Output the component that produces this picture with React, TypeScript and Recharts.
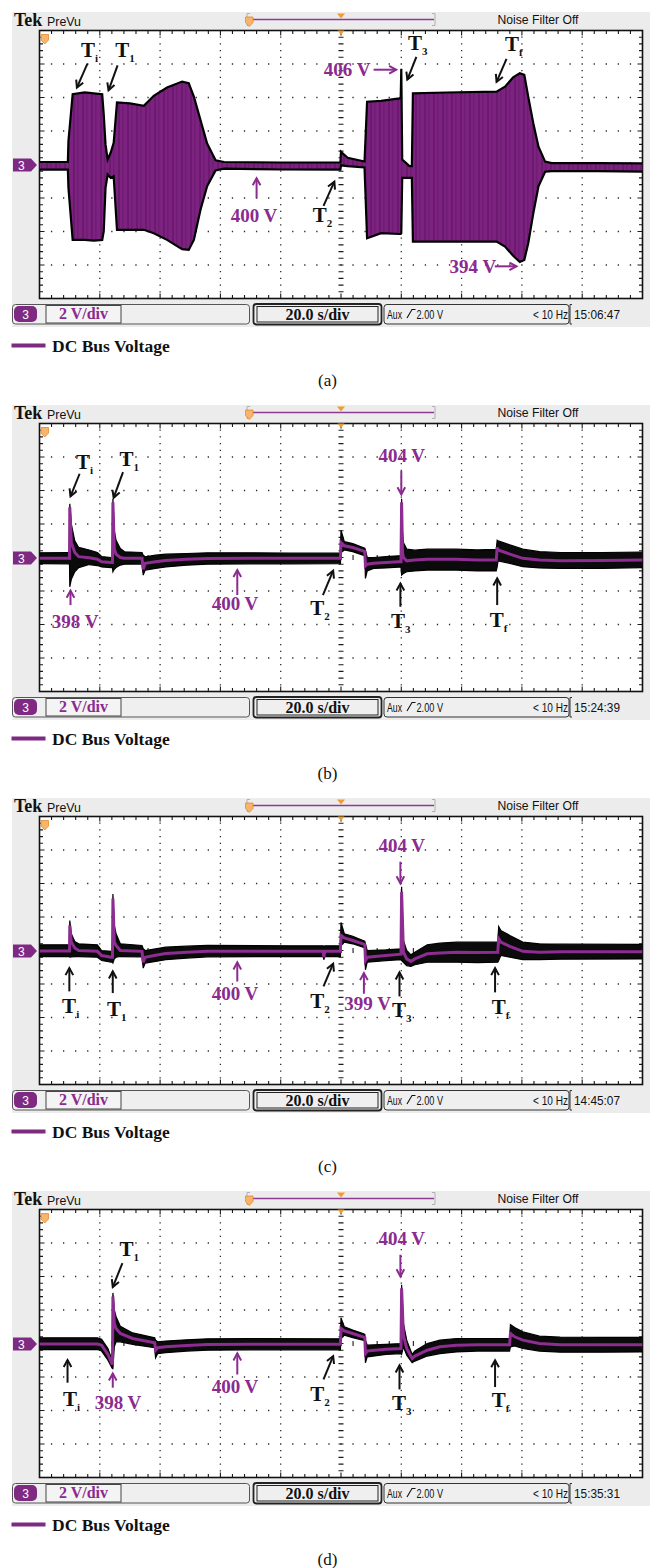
import React from 'react';
import {
  ComposedChart,
  Area,
  Line,
  XAxis,
  YAxis,
  ReferenceArea,
  ReferenceLine,
  ReferenceDot,
} from 'recharts';

const SERIF = '"Liberation Serif", "Times New Roman", serif';
const SANS = '"Liberation Sans", Arial, sans-serif';
const K = '#111111';
const P = '#8b2b8f';
const TRACE = '#7e2282';

// ---- graticule (20 s/div x 10 div, 2 V/div x 8 div centred on 400 V) ----
const TIME_DOMAIN = [0, 200];
const VOLT_DOMAIN = [392, 408];
const TIME_PER_DIV = 20;
const VOLT_PER_DIV = 2;
const MINOR_PER_DIV = 5;

const CAPTIONS = ['(a)', '(b)', '(c)', '(d)'];
const CLOCKS = ['15:06:47', '15:24:39', '14:45:07', '15:35:31'];

// ---- panel (a): envelope of the oscillating DC bus voltage (V) ----
const A_TIME = [0, 9.4, 9.6, 11.0, 15.0, 18.0, 20.8, 21.3, 21.9, 22.6, 23.6, 24.6, 25.7, 30.0, 34.6, 37.9, 42.3, 47.3, 49.5, 51.2, 53.4, 55.6, 58.4, 61.2, 80.0, 99.8, 100.0, 102.2, 107.8, 108.65, 113.3, 119.4, 119.8, 120.0, 120.3, 122.7, 123.5, 123.85, 135.0, 151.6, 154.4, 157.1, 159.3, 160.8, 162.1, 163.8, 165.5, 167.7, 169.9, 185.0, 200];
const A_LOW = [399.7, 399.7, 398.6, 395.5, 395.5, 395.45, 395.5, 396.0, 398.6, 399.4, 399.2, 399.3, 396.1, 396.1, 396.1, 395.9, 395.5, 394.95, 394.9, 395.5, 397.3, 398.7, 399.65, 399.75, 399.7, 399.7, 399.95, 399.9, 399.82, 395.6, 395.9, 395.85, 395.85, 395.9, 399.2, 399.2, 399.2, 395.4, 395.4, 395.4, 395.1, 394.55, 394.18, 394.3, 395.3, 397.1, 398.7, 399.57, 399.6, 399.6, 399.57];
const A_HIGH = [400.15, 400.15, 401.4, 404.2, 404.3, 404.25, 404.2, 403.0, 401.2, 400.3, 400.7, 401.3, 403.7, 403.65, 403.5, 404.1, 404.6, 404.95, 404.85, 404.05, 402.65, 401.25, 400.25, 400.15, 400.12, 400.12, 400.75, 400.4, 400.18, 403.75, 403.8, 403.95, 404.0, 405.72, 400.3, 399.9, 399.9, 404.25, 404.3, 404.35, 404.65, 405.2, 405.45, 405.35, 404.05, 402.45, 401.06, 400.17, 400.08, 400.08, 400.07];

// ---- panel (b) ----
const B_TIME = [0, 9.6, 9.95, 10.05, 10.55, 11.7, 13.0, 16.5, 19.2, 20.6, 23.8, 24.2, 24.35, 24.8, 25.4, 26.8, 28.2, 34.0, 34.4, 35.05, 38.5, 41.9, 48.8, 55.7, 69.5, 83.2, 99.8, 100.0, 101.1, 103.9, 107.3, 107.9, 108.1, 108.7, 110.8, 114.9, 119.0, 119.9, 120.1, 120.4, 120.7, 121.8, 124.5, 128.6, 138.3, 145.2, 151.5, 151.8, 152.1, 156.0, 160.3, 165.8, 172.7, 186.5, 200];
const B_LOW = [399.64, 399.62, 399.6, 398.25, 398.7, 399.15, 399.4, 399.58, 399.52, 399.44, 399.4, 399.4, 399.15, 399.3, 399.4, 399.55, 399.6, 399.62, 398.95, 399.25, 399.35, 399.44, 399.54, 399.6, 399.62, 399.62, 399.64, 400.3, 400.45, 400.35, 400.14, 400.1, 398.75, 399.2, 399.35, 399.38, 399.42, 399.42, 398.95, 399.0, 399.05, 399.15, 399.2, 399.25, 399.25, 399.2, 399.2, 399.45, 399.8, 399.65, 399.45, 399.38, 399.35, 399.35, 399.4];
const B_HIGH = [400.28, 400.3, 400.3, 403.21, 402.0, 401.0, 400.6, 400.45, 400.3, 400.06, 400.0, 400.0, 403.51, 401.6, 401.03, 400.54, 400.34, 400.3, 400.14, 400.04, 400.14, 400.2, 400.24, 400.28, 400.28, 400.26, 400.26, 401.63, 400.95, 400.83, 400.6, 400.55, 400.44, 400.0, 400.0, 400.05, 400.1, 400.1, 403.51, 401.5, 400.9, 400.5, 400.44, 400.5, 400.5, 400.45, 400.48, 401.03, 401.0, 400.75, 400.5, 400.35, 400.3, 400.3, 400.32];
const B_MID = [399.96, 399.96, 399.95, 403.0, 400.9, 400.3, 400.05, 399.98, 399.9, 399.75, 399.7, 399.7, 403.3, 400.5, 400.2, 400.0, 399.95, 399.95, 399.3, 399.65, 399.75, 399.82, 399.9, 399.94, 399.95, 399.95, 399.95, 400.9, 400.7, 400.6, 400.4, 400.35, 399.5, 399.6, 399.65, 399.7, 399.75, 399.75, 403.3, 400.3, 400.0, 399.8, 399.85, 399.9, 399.9, 399.85, 399.85, 400.6, 400.45, 400.2, 399.95, 399.85, 399.8, 399.82, 399.85];

// ---- panel (c) ----
const C_TIME = [0, 9.6, 9.95, 10.05, 10.55, 11.7, 13.0, 19.2, 20.6, 23.8, 24.2, 24.35, 24.8, 25.4, 26.8, 34.0, 34.4, 35.05, 38.5, 41.9, 48.8, 55.7, 83.2, 94.1, 94.3, 94.6, 99.8, 100.0, 101.1, 103.9, 107.3, 107.9, 108.1, 108.7, 114.9, 119.9, 120.1, 120.7, 121.8, 123.2, 124.5, 128.6, 132.8, 138.3, 145.2, 152.0, 152.3, 153.0, 156.0, 160.3, 165.8, 172.7, 200];
const C_LOW = [399.64, 399.64, 399.62, 399.6, 399.62, 399.64, 399.64, 399.6, 399.4, 399.3, 399.3, 399.25, 399.5, 399.6, 399.64, 399.62, 398.95, 399.25, 399.35, 399.45, 399.55, 399.62, 399.64, 399.64, 399.45, 399.64, 399.64, 400.3, 400.5, 400.4, 400.2, 400.15, 398.85, 399.3, 399.4, 399.45, 399.4, 399.3, 399.1, 399.05, 399.15, 399.3, 399.3, 399.3, 399.28, 399.3, 399.4, 399.7, 399.6, 399.45, 399.45, 399.48, 399.5];
const C_HIGH = [400.34, 400.34, 400.34, 401.79, 401.0, 400.54, 400.4, 400.34, 400.0, 399.95, 399.95, 403.37, 401.5, 401.0, 400.4, 400.3, 400.1, 400.0, 400.1, 400.2, 400.26, 400.3, 400.28, 400.28, 400.2, 400.28, 400.28, 401.67, 401.0, 400.85, 400.6, 400.55, 400.4, 400.0, 400.04, 400.1, 403.81, 400.6, 400.0, 399.74, 399.9, 400.34, 400.44, 400.5, 400.5, 400.5, 401.43, 401.2, 400.9, 400.5, 400.4, 400.38, 400.36];
const C_MID = [399.97, 399.97, 399.97, 401.5, 400.5, 400.15, 400.0, 399.95, 399.7, 399.6, 399.6, 403.1, 400.5, 400.3, 400.0, 399.95, 399.3, 399.6, 399.72, 399.82, 399.9, 399.95, 399.96, 399.96, 399.6, 399.96, 399.96, 400.9, 400.75, 400.6, 400.4, 400.35, 399.4, 399.6, 399.7, 399.78, 403.5, 399.9, 399.5, 399.35, 399.5, 399.8, 399.85, 399.9, 399.88, 399.9, 400.7, 400.5, 400.25, 399.95, 399.9, 399.92, 399.93];

// ---- panel (d) ----
const D_TIME = [0, 19.2, 20.6, 22.7, 24.0, 24.2, 24.35, 24.8, 25.4, 26.8, 30.9, 38.2, 38.5, 39.2, 41.9, 48.8, 55.7, 69.5, 99.8, 100.0, 101.1, 103.9, 107.3, 107.9, 108.1, 108.7, 114.9, 119.9, 120.1, 120.7, 121.8, 123.6, 124.5, 128.6, 132.8, 138.3, 145.2, 155.9, 156.2, 157.6, 160.3, 165.8, 172.7, 186.5, 200];
const D_LOW = [399.64, 399.64, 399.55, 399.0, 398.55, 398.5, 398.5, 399.8, 400.1, 400.1, 399.95, 399.75, 399.15, 399.4, 399.45, 399.55, 399.6, 399.62, 399.62, 400.3, 400.5, 400.35, 400.2, 400.15, 398.85, 399.2, 399.35, 399.4, 399.35, 399.8, 399.3, 398.85, 398.95, 399.25, 399.4, 399.5, 399.55, 399.55, 399.8, 399.85, 399.7, 399.55, 399.48, 399.48, 399.5];
const D_HIGH = [400.34, 400.34, 400.25, 399.7, 399.05, 399.1, 403.02, 402.0, 401.6, 401.03, 400.63, 400.34, 400.2, 400.1, 400.15, 400.22, 400.28, 400.3, 400.28, 401.53, 401.0, 400.8, 400.6, 400.55, 400.2, 399.9, 399.95, 400.0, 403.51, 401.2, 400.2, 399.35, 399.55, 400.0, 400.2, 400.3, 400.3, 400.3, 401.13, 400.95, 400.7, 400.44, 400.38, 400.36, 400.36];
const D_MID = [399.97, 399.97, 399.9, 399.35, 398.8, 398.8, 402.8, 401.2, 400.9, 400.6, 400.3, 400.05, 399.6, 399.75, 399.8, 399.88, 399.94, 399.95, 399.95, 400.9, 400.75, 400.6, 400.4, 400.35, 399.4, 399.55, 399.65, 399.7, 403.3, 400.5, 399.7, 399.1, 399.25, 399.6, 399.8, 399.9, 399.92, 399.92, 400.6, 400.4, 400.2, 400.0, 399.92, 399.92, 399.92];

// ---- annotations (data coordinates: s, V) ----
type Note = { x: number; y: number; t: string; s?: string; c: string };
type Arrow = { x1: number; y1: number; x2: number; y2: number; c: string };

const A_NOTES: Note[] = [
  { x: 13.8, y: 406.42, t: 'T', s: 'i', c: K },
  { x: 25.1, y: 406.42, t: 'T', s: '1', c: K },
  { x: 63.4, y: 396.56, t: '400 V', c: P },
  { x: 90.6, y: 396.54, t: 'T', s: '2', c: K },
  { x: 94.3, y: 405.3, t: '406 V', c: P },
  { x: 122.2, y: 406.85, t: 'T', s: '3', c: K },
  { x: 154.4, y: 406.77, t: 'T', s: 'f', c: K },
  { x: 136.0, y: 393.52, t: '394 V', c: P },
];
const A_ARROWS: Arrow[] = [
  { x1: 15.9, y1: 406.02, x2: 12.4, y2: 404.59, c: K },
  { x1: 25.9, y1: 405.92, x2: 22.9, y2: 404.43, c: K },
  { x1: 72.0, y1: 397.99, x2: 72.0, y2: 399.18, c: P },
  { x1: 94.2, y1: 397.53, x2: 97.8, y2: 398.98, c: K },
  { x1: 110.8, y1: 405.66, x2: 118.3, y2: 405.66, c: P },
  { x1: 125.0, y1: 406.42, x2: 122.0, y2: 405.07, c: K },
  { x1: 154.9, y1: 406.3, x2: 151.6, y2: 404.93, c: K },
  { x1: 151.0, y1: 393.92, x2: 158.2, y2: 393.92, c: P },
];

const B_NOTES: Note[] = [
  { x: 12.07, y: 405.3, t: 'T', s: 'i', c: K },
  { x: 26.5, y: 405.44, t: 'T', s: '1', c: K },
  { x: 4.1, y: 395.77, t: '398 V', c: P },
  { x: 57.1, y: 396.87, t: '400 V', c: P },
  { x: 89.8, y: 396.57, t: 'T', s: '2', c: K },
  { x: 112.4, y: 405.69, t: '404 V', c: P },
  { x: 116.6, y: 395.77, t: 'T', s: '3', c: K },
  { x: 149.3, y: 395.87, t: 'T', s: 'f', c: K },
];
const B_ARROWS: Arrow[] = [
  { x1: 13.3, y1: 405.0, x2: 10.28, y2: 403.65, c: K },
  { x1: 27.7, y1: 405.1, x2: 24.6, y2: 403.57, c: K },
  { x1: 10.28, y1: 397.16, x2: 10.28, y2: 398.02, c: P },
  { x1: 65.6, y1: 397.76, x2: 65.6, y2: 399.25, c: P },
  { x1: 94.0, y1: 397.76, x2: 97.4, y2: 399.21, c: K },
  { x1: 120.0, y1: 405.16, x2: 120.0, y2: 403.77, c: P },
  { x1: 119.7, y1: 397.06, x2: 119.7, y2: 398.45, c: K },
  { x1: 151.8, y1: 397.16, x2: 151.8, y2: 398.75, c: K },
];

const C_NOTES: Note[] = [
  { x: 7.5, y: 396.27, t: 'T', s: 'i', c: K },
  { x: 22.4, y: 396.11, t: 'T', s: '1', c: K },
  { x: 57.1, y: 397.06, t: '400 V', c: P },
  { x: 89.8, y: 396.57, t: 'T', s: '2', c: K },
  { x: 101.1, y: 396.43, t: '399 V', c: P },
  { x: 112.4, y: 405.89, t: '404 V', c: P },
  { x: 116.9, y: 396.03, t: 'T', s: '3', c: K },
  { x: 150.0, y: 396.23, t: 'T', s: 'f', c: K },
];
const C_ARROWS: Arrow[] = [
  { x1: 9.9, y1: 397.56, x2: 9.9, y2: 398.95, c: K },
  { x1: 24.3, y1: 397.46, x2: 24.3, y2: 398.75, c: K },
  { x1: 65.6, y1: 398.15, x2: 65.6, y2: 399.29, c: P },
  { x1: 94.2, y1: 397.86, x2: 97.4, y2: 399.21, c: K },
  { x1: 107.6, y1: 397.42, x2: 107.6, y2: 398.65, c: P },
  { x1: 119.7, y1: 405.3, x2: 119.7, y2: 404.01, c: P },
  { x1: 119.4, y1: 397.26, x2: 119.4, y2: 398.69, c: K },
  { x1: 151.1, y1: 397.5, x2: 151.1, y2: 398.95, c: K },
];

const D_NOTES: Note[] = [
  { x: 7.8, y: 396.27, t: 'T', s: 'i', c: K },
  { x: 26.5, y: 405.24, t: 'T', s: '1', c: K },
  { x: 18.3, y: 396.11, t: '398 V', c: P },
  { x: 57.1, y: 397.06, t: '400 V', c: P },
  { x: 89.8, y: 396.57, t: 'T', s: '2', c: K },
  { x: 112.4, y: 405.89, t: '404 V', c: P },
  { x: 116.9, y: 396.03, t: 'T', s: '3', c: K },
  { x: 150.0, y: 396.23, t: 'T', s: 'f', c: K },
];
const D_ARROWS: Arrow[] = [
  { x1: 9.3, y1: 397.66, x2: 9.3, y2: 399.01, c: K },
  { x1: 27.5, y1: 404.8, x2: 24.3, y2: 403.37, c: K },
  { x1: 24.3, y1: 397.36, x2: 24.3, y2: 398.21, c: P },
  { x1: 65.6, y1: 398.15, x2: 65.6, y2: 399.41, c: P },
  { x1: 94.2, y1: 397.86, x2: 97.4, y2: 399.25, c: K },
  { x1: 119.7, y1: 405.3, x2: 119.7, y2: 404.01, c: P },
  { x1: 119.4, y1: 397.26, x2: 119.4, y2: 398.69, c: K },
  { x1: 151.1, y1: 397.4, x2: 151.1, y2: 399.0, c: K },
];

const rowsA = A_TIME.map((t, i) => ({ t, band: [A_LOW[i], A_HIGH[i]] }));
const rowsB = B_TIME.map((t, i) => ({ t, band: [B_LOW[i], B_HIGH[i]], mid: B_MID[i] }));
const rowsC = C_TIME.map((t, i) => ({ t, band: [C_LOW[i], C_HIGH[i]], mid: C_MID[i] }));
const rowsD = D_TIME.map((t, i) => ({ t, band: [D_LOW[i], D_HIGH[i]], mid: D_MID[i] }));

// oscilloscope graticule drawn inside the rectangle that the axes give for the full domain
const graticuleShape = (p: any) => {
  const { x, y, width, height } = p;
  const nx = (TIME_DOMAIN[1] - TIME_DOMAIN[0]) / TIME_PER_DIV;
  const ny = (VOLT_DOMAIN[1] - VOLT_DOMAIN[0]) / VOLT_PER_DIV;
  const dx = width / nx;
  const dy = height / ny;
  const m = MINOR_PER_DIV;
  let dots = '';
  const dot = (gx: number, gy: number) => `M${(gx - 0.65).toFixed(2)} ${(gy - 0.65).toFixed(2)}h1.3v1.3h-1.3z`;
  for (let i = 1; i < nx; i++) {
    if (i * 2 === nx) continue;
    for (let k = 1; k < ny * m; k++) dots += dot(x + i * dx, y + (k * dy) / m);
  }
  for (let j = 1; j < ny; j++) {
    if (j * 2 === ny) continue;
    for (let k = 1; k < nx * m; k++) dots += dot(x + (k * dx) / m, y + j * dy);
  }
  let ticks = '';
  const cx = x + width / 2;
  const cy = y + height / 2;
  for (let k = 1; k < ny * m; k++) {
    const gy = (y + (k * dy) / m).toFixed(2);
    const len = k % m === 0 ? 5 : 3.5;
    ticks += `M${cx - 2.5} ${gy}h5`;
    ticks += `M${x} ${gy}h${len}`;
    ticks += `M${x + width} ${gy}h${-len}`;
  }
  for (let k = 1; k < nx * m; k++) {
    const gx = (x + (k * dx) / m).toFixed(2);
    const len = k % m === 0 ? 5 : 3.5;
    ticks += `M${gx} ${cy - 2.5}v5`;
    ticks += `M${gx} ${y}v${len}`;
    ticks += `M${gx} ${y + height}v${-len}`;
  }
  return (
    <g>
      <path d={dots} fill="#2a2a2a" />
      <path d={ticks} stroke="#1a1a1a" strokeWidth={1.1} fill="none" />
      <rect x={x} y={y} width={width} height={height} fill="none" stroke="#111" strokeWidth={1.6} />
    </g>
  );
};

const arrowShape = (color: string) => (p: any) => {
  const { x1, y1, x2, y2 } = p;
  const a = Math.atan2(y2 - y1, x2 - x1);
  const L = 8;
  const w = 0.5;
  const pts = `${x2 - L * Math.cos(a - w)},${y2 - L * Math.sin(a - w)} ${x2},${y2} ${x2 - L * Math.cos(a + w)},${y2 - L * Math.sin(a + w)}`;
  return (
    <g>
      <line x1={x1} y1={y1} x2={x2} y2={y2} stroke={color} strokeWidth={2} />
      <polyline points={pts} fill="none" stroke={color} strokeWidth={2} />
    </g>
  );
};

const noteShape = (n: Note) => (p: any) => (
  <text x={p.cx} y={p.cy} fill={n.c} fontFamily={SERIF} fontWeight="bold" fontSize={n.s ? 21 : 19}>
    {n.t}
    {n.s ? (
      <tspan dy={5} fontSize={11}>
        {n.s}
      </tspan>
    ) : null}
  </text>
);

function Chrome({ clock, caption }: { clock: string; caption: string }) {
  return (
    <svg width={650} height={393} style={{ position: 'absolute', left: 0, top: 0 }}>
      <rect x={12} y={12} width={638} height={315} fill="#ececec" />
      <rect x={39.5} y={30.5} width={603} height={268} fill="#ffffff" />
      <text x={14} y={26} fontFamily={SERIF} fontWeight="bold" fontSize={18} fill="#111">
        Tek
      </text>
      <text x={47} y={26} fontFamily={SANS} fontSize={12.5} fill="#111" textLength={34} lengthAdjust="spacingAndGlyphs">
        PreVu
      </text>
      <path d="M250 13.5 h-3 v12 h3" stroke="#b0b0b0" fill="none" />
      <path d="M432 13.5 h3 v12 h-3" stroke="#b0b0b0" fill="none" />
      <line x1={251} y1={19.5} x2={434} y2={19.5} stroke="#8e3b94" strokeWidth={1.6} />
      <path d="M245.5 17 h7.5 v5.5 l-3.75 4 l-3.75 -4 z" fill="#f7b46c" stroke="#e8892b" strokeWidth={0.8} />
      <path d="M337 13.5 h8 l-4 5 z" fill="#f29b2f" />
      <text x={497.5} y={24} fontFamily={SANS} fontSize={12.5} fill="#111" textLength={81} lengthAdjust="spacingAndGlyphs">
        Noise Filter Off
      </text>
      {/* channel 3 ground marker */}
      <path d="M13 158.5 h18 l6 6.5 l-6 6.5 h-18 z" fill="#7e2a82" />
      <text x={18} y={169.5} fontFamily={SANS} fontSize={12} fill="#fff">
        3
      </text>
      {/* status bar */}
      <rect x={12.5} y={304.5} width={237} height={19.5} rx={3} fill="#efefef" stroke="#555" />
      <rect x={14} y={306} width={23} height={16} rx={5} fill="#7e2a82" />
      <text x={25.5} y={318.5} textAnchor="middle" fontFamily={SANS} fontSize={12} fill="#fff">
        3
      </text>
      <rect x={46} y={305.5} width={75} height={17.5} fill="#f4f4f4" stroke="#444" />
      <text x={83.5} y={319} textAnchor="middle" fontFamily={SERIF} fontWeight="bold" fontSize={16} fill={P}>
        2 V/div
      </text>
      <rect x={253.5} y={304} width={128} height={20.5} rx={3} fill="#efefef" stroke="#222" strokeWidth={1.8} />
      <rect x={257} y={306.5} width={121} height={15.5} fill="none" stroke="#222" />
      <text x={317.5} y={319.5} textAnchor="middle" fontFamily={SERIF} fontWeight="bold" fontSize={16} fill="#111">
        20.0 s/div
      </text>
      <rect x={384} y={304.5} width={185} height={19.5} rx={3} fill="#efefef" stroke="#333" />
      <text x={387} y={319} fontFamily={SANS} fontSize={12.5} fill="#111" textLength={15} lengthAdjust="spacingAndGlyphs">
        Aux
      </text>
      <path d="M407 318 L412 309.5 L415.5 309.5" stroke="#111" fill="none" strokeWidth={1.1} />
      <text x={416.5} y={319} fontFamily={SANS} fontSize={12.5} fill="#111" textLength={26.5} lengthAdjust="spacingAndGlyphs">
        2.00 V
      </text>
      <text x={533} y={319} fontFamily={SANS} fontSize={12.5} fill="#111" textLength={35} lengthAdjust="spacingAndGlyphs">
        {'< 10 Hz'}
      </text>
      <path d="M572 304.5 h-2 v19.5 h2" stroke="#333" fill="none" />
      <text x={574} y={319} fontFamily={SANS} fontSize={12.5} fill="#111" textLength={46} lengthAdjust="spacingAndGlyphs">
        {clock}
      </text>
      {/* legend */}
      <line x1={11.5} y1={345.5} x2={45.5} y2={345.5} stroke="#7d2a80" strokeWidth={4} />
      <text x={52} y={351.5} fontFamily={SERIF} fontWeight="bold" fontSize={17.5} fill="#111">
        DC Bus Voltage
      </text>
      <text x={327.5} y={386} textAnchor="middle" fontFamily={SERIF} fontSize={17} fill="#111">
        {caption}
      </text>
    </svg>
  );
}

function Overlay() {
  return (
    <svg width={650} height={60} style={{ position: 'absolute', left: 0, top: 0, pointerEvents: 'none' }}>
      <path d="M41 34.5 h7.5 v5.5 l-3.75 4 l-3.75 -4 z" fill="#f7b46c" stroke="#e8892b" strokeWidth={0.8} />
      <path d="M337.5 30.5 h7 l-3.5 4.5 z" fill="#f29b2f" />
    </svg>
  );
}

function Scope({ idx, rows, notes, arrows, burst }: { idx: number; rows: any[]; notes: Note[]; arrows: Arrow[]; burst: boolean }) {
  const pid = `streak${idx}`;
  return (
    <div style={{ position: 'absolute', left: 0, top: idx * 393, width: 650, height: 393 }}>
      <Chrome clock={CLOCKS[idx]} caption={CAPTIONS[idx]} />
      <div style={{ position: 'absolute', left: 0, top: 0 }}>
        <ComposedChart width={650} height={330} data={rows} margin={{ top: 30.5, right: 7.5, bottom: 31.5, left: 39.5 }}>
          <defs>
            <pattern id={pid} patternUnits="userSpaceOnUse" width={9} height={400}>
              <rect width={9} height={400} fill={TRACE} />
              <rect x={1.5} width={1} height={400} fill="#2e0832" opacity={0.5} />
              <rect x={5.5} width={0.8} height={400} fill="#2e0832" opacity={0.35} />
            </pattern>
          </defs>
          <XAxis xAxisId="b" type="number" dataKey="t" domain={TIME_DOMAIN} allowDataOverflow hide />
          <YAxis yAxisId="l" type="number" domain={VOLT_DOMAIN} allowDataOverflow hide />
          <ReferenceArea
            xAxisId="b"
            yAxisId="l"
            x1={TIME_DOMAIN[0]}
            x2={TIME_DOMAIN[1]}
            y1={VOLT_DOMAIN[0]}
            y2={VOLT_DOMAIN[1]}
            ifOverflow="visible"
            shape={graticuleShape}
            zIndex={-10}
          />
          {burst && (
            <Area xAxisId="b" yAxisId="l" type="linear" dataKey="band" stroke="#000" strokeWidth={2.2} fill={`url(#${pid})`} fillOpacity={1} isAnimationActive={false} dot={false} activeDot={false} />
          )}
          {!burst && (
            <Area xAxisId="b" yAxisId="l" type="linear" dataKey="band" stroke="#000" strokeWidth={1.2} fill="#0b0b0b" fillOpacity={1} isAnimationActive={false} dot={false} activeDot={false} />
          )}
          {!burst && (
            <Line xAxisId="b" yAxisId="l" type="linear" dataKey="mid" stroke="#8d2c91" strokeWidth={3} isAnimationActive={false} dot={false} activeDot={false} />
          )}
          {arrows.map((a, i) => (
            <ReferenceLine
              key={`a${i}`}
              xAxisId="b"
              yAxisId="l"
              segment={[{ x: a.x1, y: a.y1 }, { x: a.x2, y: a.y2 }]}
              ifOverflow="visible"
              shape={arrowShape(a.c)}
            />
          ))}
          {notes.map((n, i) => (
            <ReferenceDot key={`n${i}`} xAxisId="b" yAxisId="l" x={n.x} y={n.y} r={1} ifOverflow="visible" shape={noteShape(n)} />
          ))}
        </ComposedChart>
      </div>
      <Overlay />
    </div>
  );
}

export default function App() {
  return (
    <div style={{ position: 'absolute', left: 0, top: 0, width: 650, height: 1568, background: '#fff' }}>
      <Scope idx={0} rows={rowsA} notes={A_NOTES} arrows={A_ARROWS} burst />
      <Scope idx={1} rows={rowsB} notes={B_NOTES} arrows={B_ARROWS} burst={false} />
      <Scope idx={2} rows={rowsC} notes={C_NOTES} arrows={C_ARROWS} burst={false} />
      <Scope idx={3} rows={rowsD} notes={D_NOTES} arrows={D_ARROWS} burst={false} />
    </div>
  );
}
